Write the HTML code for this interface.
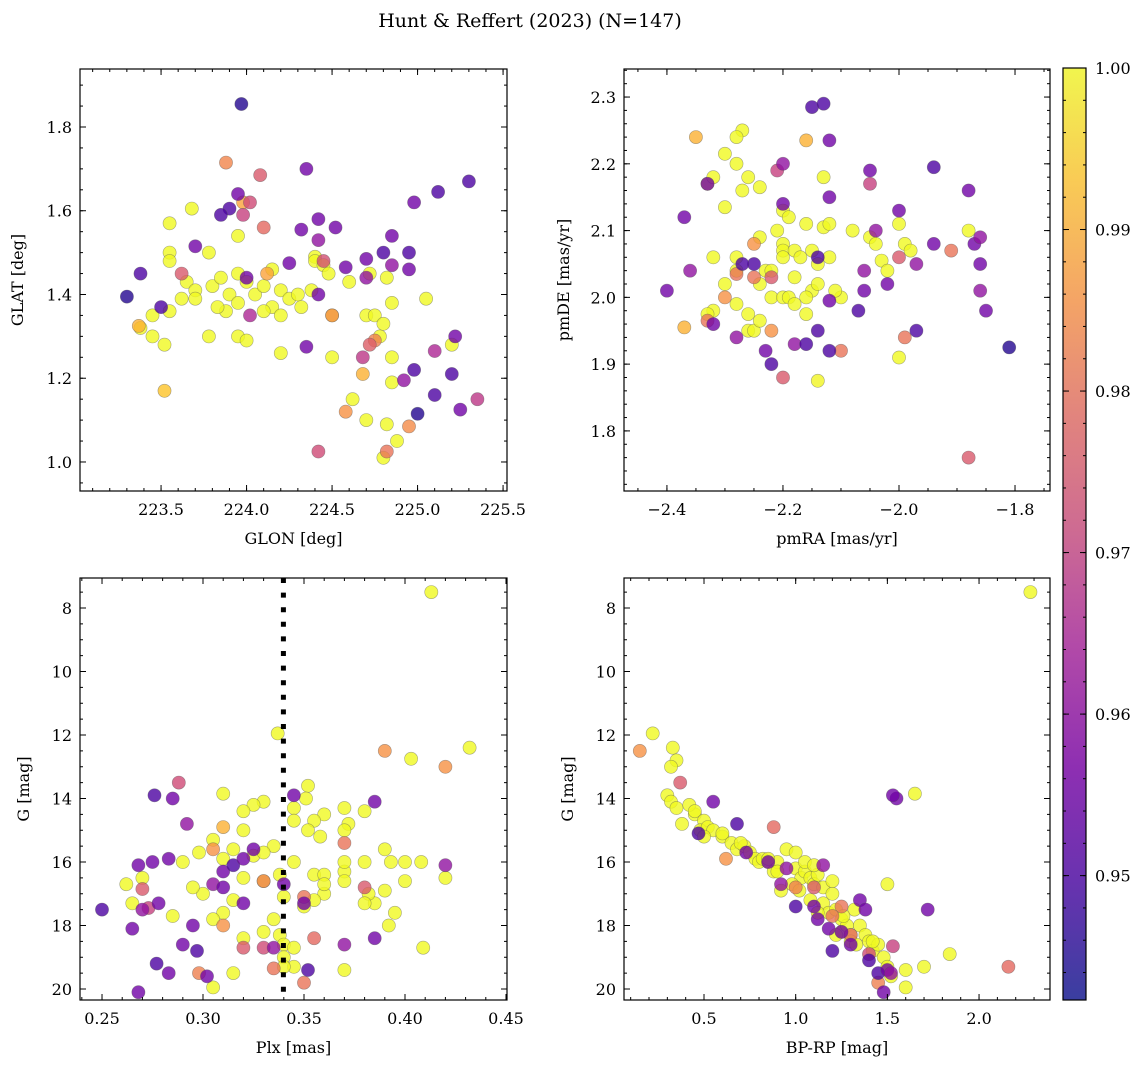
<!DOCTYPE html>
<html><head><meta charset="utf-8"><style>
body{margin:0;background:#fff;}
svg{display:block;font-family:"DejaVu Serif","Liberation Serif",serif;}
</style></head><body>
<svg id="fig" width="1148" height="1068" viewBox="0 0 1148 1068">
<text x="530" y="27" text-anchor="middle" font-size="19">Hunt &amp; Reffert (2023) (N=147)</text>
</svg>
<script>
// ---- Panel 1: GLON vs GLAT ----
const glon=[223.55,223.55,223.55,223.65,223.7,223.7,223.62,223.55,223.45,223.38,223.45,223.52,223.78,223.8,223.85,223.88,223.83,223.78,223.9,223.95,223.95,223.95,223.95,224.0,224.05,224.1,224.15,224.15,224.2,224.2,224.25,224.3,224.32,224.38,224.4,224.4,224.45,224.48,224.5,224.5,224.2,224.0,224.1,224.6,224.62,224.7,224.72,224.75,224.78,224.8,224.82,224.85,224.85,224.85,224.82,224.88,224.8,225.05,225.2,224.7,223.68,223.52,
223.88,224.08,223.98,224.02,224.1,223.98,224.12,224.45,224.5,224.68,224.68,224.58,224.75,224.95,224.82,224.42,225.35,225.1,224.72,223.62,223.37,
223.97,224.35,225.3,225.12,224.98,223.95,223.9,223.85,224.0,223.7,223.38,223.3,223.5,224.02,224.25,224.32,224.42,224.42,224.52,224.58,224.7,224.7,224.8,224.85,224.85,224.95,224.95,224.35,224.42,224.98,225.0,225.1,225.2,225.22,225.25,224.92];
const glat=[1.57,1.50,1.48,1.43,1.41,1.39,1.39,1.36,1.35,1.32,1.30,1.28,1.50,1.42,1.44,1.36,1.37,1.30,1.40,1.38,1.45,1.54,1.30,1.43,1.40,1.42,1.46,1.37,1.41,1.35,1.39,1.40,1.37,1.41,1.49,1.48,1.47,1.45,1.35,1.25,1.26,1.29,1.36,1.43,1.15,1.35,1.45,1.35,1.30,1.33,1.44,1.38,1.25,1.19,1.09,1.05,1.01,1.39,1.28,1.10,1.605,1.17,
1.715,1.685,1.62,1.62,1.56,1.59,1.45,1.48,1.35,1.25,1.21,1.12,1.29,1.085,1.025,1.025,1.15,1.265,1.28,1.45,1.325,
1.855,1.70,1.67,1.645,1.62,1.64,1.605,1.59,1.44,1.515,1.45,1.395,1.37,1.35,1.475,1.555,1.53,1.58,1.56,1.465,1.485,1.44,1.50,1.54,1.47,1.50,1.46,1.275,1.40,1.22,1.115,1.16,1.21,1.30,1.125,1.195];
const prob1=[.998,.999,.997,.999,.998,.999,.997,.999,.998,.996,.999,.998,.999,.997,.999,.998,.999,.998,.999,.997,.999,.998,.999,.998,.999,.997,.998,.999,.999,.997,.998,.999,.998,.999,.997,.999,.998,.999,.997,.998,.999,.998,.999,.998,.997,.999,.998,.999,.997,.999,.998,.999,.997,.998,.999,.998,.997,.999,.998,.999,.998,.993,
.983,.975,.988,.972,.978,.97,.988,.973,.984,.968,.99,.985,.982,.984,.98,.972,.968,.965,.976,.975,.99,
.945,.955,.95,.95,.955,.955,.95,.95,.955,.955,.95,.945,.95,.965,.955,.955,.96,.955,.955,.955,.955,.96,.95,.955,.96,.95,.955,.955,.955,.95,.945,.95,.95,.955,.955,.96];
// ---- Panel 2: pmRA vs pmDE ----
const pmra=[-2.27,-2.3,-2.28,-2.28,-2.33,-2.32,-2.26,-2.24,-2.27,-2.3,-2.32,-2.28,-2.28,-2.3,-2.32,-2.33,-2.28,-2.26,-2.26,-2.24,-2.23,-2.24,-2.22,-2.2,-2.21,-2.2,-2.19,-2.2,-2.18,-2.2,-2.18,-2.17,-2.16,-2.15,-2.14,-2.15,-2.16,-2.16,-2.14,-2.13,-2.12,-2.13,-2.12,-2.1,-2.08,-2.05,-2.03,-2.02,-2.04,-2.0,-1.99,-1.98,-2.0,-1.88,-2.14,-2.25,-2.22,-2.19,-2.18,-2.11,-2.2,-2.24,
-2.35,-2.37,-2.3,-2.28,-2.25,-2.21,-2.22,-2.2,-2.22,-2.16,-2.1,-2.05,-2.0,-1.99,-1.91,-1.88,-2.33,-2.25,
-2.4,-2.37,-2.36,-2.33,-2.32,-2.28,-2.25,-2.23,-2.22,-2.2,-2.18,-2.15,-2.13,-2.12,-2.12,-2.16,-2.14,-2.12,-2.12,-2.14,-2.05,-2.04,-2.0,-2.02,-2.06,-2.07,-2.06,-1.94,-1.94,-1.97,-1.97,-1.88,-1.87,-1.86,-1.86,-1.86,-1.85,-1.81,-2.27,-2.2];
const pmde=[2.25,2.215,2.24,2.2,2.17,2.18,2.18,2.165,2.16,2.135,2.06,2.06,2.04,2.02,1.98,1.975,1.99,1.975,1.95,2.09,2.04,2.02,2.0,2.13,2.1,2.08,2.12,2.07,2.07,2.0,2.03,2.06,2.11,2.07,2.05,2.01,2.0,1.975,2.02,2.105,2.11,2.18,2.06,2.0,2.1,2.09,2.055,2.04,2.08,2.11,2.08,2.07,1.91,2.1,1.875,1.95,2.04,2.0,1.99,2.01,2.06,1.965,
2.24,1.955,2.0,2.035,2.08,2.19,2.03,1.88,1.95,2.235,1.92,2.17,2.06,1.94,2.07,1.76,1.965,2.03,
2.01,2.12,2.04,2.17,1.96,1.94,2.05,1.92,1.90,2.14,1.93,2.285,2.29,2.235,2.15,1.93,1.95,1.995,1.92,2.06,2.19,2.1,2.13,2.02,2.04,1.98,2.01,2.195,2.08,2.05,1.95,2.16,2.08,2.09,2.05,2.01,1.98,1.925,2.05,2.2];
const prob2=[.999,.998,.999,.997,.999,.998,.999,.997,.998,.999,.998,.999,.997,.999,.998,.999,.997,.999,.998,.999,.998,.997,.999,.998,.999,.997,.998,.999,.998,.999,.997,.999,.998,.999,.997,.998,.999,.997,.999,.998,.999,.997,.998,.999,.998,.997,.999,.998,.999,.998,.997,.999,.998,.998,.996,.997,.998,.999,.997,.998,.999,.998,
.99,.99,.985,.98,.985,.97,.975,.975,.985,.99,.98,.97,.975,.98,.98,.975,.98,.98,
.955,.955,.96,.955,.955,.96,.95,.955,.95,.955,.96,.95,.95,.955,.955,.95,.95,.955,.95,.95,.955,.96,.955,.955,.96,.95,.955,.95,.955,.96,.95,.955,.955,.96,.955,.96,.955,.945,.95,.96];
// ---- Panel 3: Plx vs G ----
const plx=[0.413,0.337,0.403,0.432,0.352,0.351,0.345,0.36,0.37,0.38,0.372,0.37,0.355,0.345,0.352,0.358,0.335,0.33,0.325,0.32,0.31,0.32,0.315,0.305,0.298,0.31,0.325,0.33,0.345,0.338,0.355,0.36,0.37,0.37,0.38,0.39,0.393,0.4,0.408,0.42,0.4,0.39,0.385,0.382,0.37,0.36,0.355,0.35,0.34,0.335,0.33,0.32,0.315,0.31,0.305,0.3,0.295,0.29,0.285,0.27,0.262,0.265,0.32,0.33,0.338,0.34,0.345,0.34,0.345,0.34,0.315,0.305,0.37,0.392,0.409,0.395,0.36,0.38,
0.39,0.42,0.31,0.305,0.31,0.33,0.35,0.355,0.37,0.38,0.298,0.335,0.32,0.33,0.288,0.27,0.273,0.35,
0.276,0.285,0.25,0.268,0.275,0.283,0.265,0.27,0.278,0.268,0.277,0.283,0.29,0.297,0.295,0.292,0.302,0.31,0.305,0.31,0.315,0.32,0.32,0.325,0.335,0.345,0.35,0.352,0.37,0.385,0.385,0.42,0.34];
const gmag3=[7.5,11.95,12.75,12.4,13.6,14.0,14.3,14.5,14.3,14.4,14.8,15.0,14.7,14.7,15.0,15.2,15.5,14.1,14.2,14.4,13.85,15.0,15.6,15.3,15.7,15.9,15.8,15.7,16.0,16.4,16.4,16.4,16.3,16.0,16.0,15.6,16.0,16.0,16.0,16.5,16.6,16.9,17.3,17.0,16.6,17.0,17.2,17.4,17.1,17.8,16.6,16.5,17.2,17.6,17.8,17.0,16.8,16.0,17.7,16.5,16.7,17.3,18.4,18.2,18.3,18.6,18.7,19.0,19.3,19.3,19.5,19.95,19.4,18.0,18.7,17.6,16.7,17.3,
12.5,13.0,14.9,15.6,18.0,16.6,17.1,18.4,15.4,16.8,19.5,19.35,18.7,18.7,13.5,16.85,17.45,19.8,
13.9,14.0,17.5,16.1,16.0,15.9,18.1,17.5,17.3,20.1,19.2,19.5,18.6,18.8,18.0,14.8,19.6,16.3,16.7,16.8,16.1,17.3,15.9,15.6,18.7,13.9,17.3,19.4,18.6,18.4,14.1,16.1,16.7];
const prob3=[.999,.998,.999,.997,.999,.998,.999,.997,.998,.999,.998,.999,.997,.999,.998,.999,.997,.999,.998,.999,.998,.997,.999,.998,.999,.997,.998,.999,.998,.999,.997,.999,.998,.999,.997,.998,.999,.997,.999,.998,.999,.997,.998,.999,.998,.997,.999,.998,.999,.998,.997,.999,.998,.999,.997,.998,.999,.997,.999,.998,.999,.998,.999,.997,.998,.999,.998,.997,.999,.998,.999,.997,.999,.998,.999,.997,.998,.999,
.985,.985,.99,.985,.985,.982,.98,.978,.98,.975,.982,.98,.975,.972,.972,.975,.97,.98,
.95,.955,.95,.955,.955,.955,.955,.96,.955,.955,.95,.955,.955,.95,.955,.96,.955,.955,.96,.955,.95,.955,.955,.955,.96,.955,.955,.95,.96,.955,.955,.96,.955];
// ---- Panel 4: BP-RP vs G ----
const bprp=[2.28,0.22,0.33,0.35,0.32,0.3,0.32,0.35,0.38,0.45,0.42,0.45,0.5,0.48,0.52,0.55,0.5,0.6,0.65,0.68,0.72,0.75,0.78,0.8,0.82,0.85,0.88,0.9,0.95,1.0,1.0,1.03,1.05,1.08,1.1,1.12,1.15,1.15,1.18,1.2,1.22,1.25,1.25,1.28,1.3,1.32,1.35,1.38,1.4,1.42,1.45,1.48,1.5,1.52,1.6,1.6,1.7,1.84,1.5,1.65,1.05,1.1,1.2,0.98,0.92,1.08,1.12,1.22,1.3,1.42,0.9,0.85,0.7,0.6,1.02,1.26,1.33,
0.15,0.37,0.88,0.62,1.0,1.25,1.3,1.4,1.45,1.53,2.16,1.2,1.1,
0.55,0.47,0.68,0.73,0.85,0.92,1.0,1.1,1.15,1.18,1.2,1.25,1.35,1.38,1.4,1.45,1.5,1.52,1.48,1.55,1.53,1.72,1.12,0.95,1.3];
const gmag4=[7.5,11.95,12.4,12.8,13.0,13.9,14.1,14.3,14.8,14.5,14.2,14.4,14.7,15.0,14.9,15.0,15.2,15.2,15.4,15.6,15.5,15.7,15.9,16.0,15.9,16.0,16.3,16.0,15.6,15.7,16.2,16.5,16.3,16.5,16.7,16.4,16.8,17.3,17.6,17.0,17.5,17.8,18.2,18.0,18.3,17.5,18.0,18.3,18.5,18.8,18.6,19.0,19.3,19.6,19.4,19.95,19.3,18.9,16.7,13.85,16.0,16.1,16.6,16.7,16.9,17.2,17.6,18.3,18.5,18.5,16.3,15.9,15.4,15.1,16.9,17.7,18.6,
12.5,13.5,14.9,15.9,16.8,17.4,18.3,18.9,19.8,18.65,19.3,17.7,16.8,
14.1,15.1,14.8,15.7,16.0,16.7,17.4,17.4,16.1,18.1,18.8,18.2,17.2,17.5,19.1,19.5,19.4,19.5,20.1,14.0,13.9,17.5,17.8,16.2,18.6];
const prob4=[.999,.998,.999,.997,.999,.998,.999,.997,.998,.999,.998,.999,.997,.999,.998,.999,.997,.999,.998,.999,.998,.997,.999,.998,.999,.997,.998,.999,.998,.999,.997,.999,.998,.999,.997,.998,.999,.997,.999,.998,.999,.997,.998,.999,.998,.997,.999,.998,.999,.998,.997,.999,.998,.999,.997,.998,.999,.997,.999,.998,.999,.998,.999,.997,.998,.999,.998,.997,.999,.998,.999,.997,.999,.998,.999,.997,.998,
.985,.975,.978,.985,.982,.98,.978,.972,.982,.97,.978,.98,.975,
.955,.95,.95,.955,.955,.96,.95,.955,.96,.955,.95,.955,.955,.955,.95,.95,.955,.96,.955,.955,.955,.955,.955,.96,.955];
const xTicks1=[223.5,224.0,224.5,225.0,225.5], yTicks1=[1.0,1.2,1.4,1.6,1.8];
const xTicks2=[-2.4,-2.2,-2.0,-1.8], yTicks2=[1.8,1.9,2.0,2.1,2.2,2.3];
const xTicks3=[0.25,0.30,0.35,0.40,0.45], yTicksG=[8,10,12,14,16,18,20];
const xTicks4=[0.5,1.0,1.5,2.0];
const cbTicks=[0.95,0.96,0.97,0.98,0.99,1.00];
const plxCut=0.3398;
const CMIN=0.9423,CMAX=1.0;

const NS="http://www.w3.org/2000/svg";
const svg=document.getElementById('fig');
function mk(tag,attrs,parent){const e=document.createElementNS(NS,tag);for(const k in attrs)e.setAttribute(k,attrs[k]);(parent||svg).appendChild(e);return e;}
const stops=[[0,[13,8,135]],[0.13,[75,3,161]],[0.25,[125,3,168]],[0.38,[168,34,150]],[0.5,[203,70,121]],[0.63,[229,107,93]],[0.75,[248,148,65]],[0.88,[253,195,40]],[1,[240,249,33]]];
function plasma(t){t=Math.max(0,Math.min(1,t));for(let i=1;i<stops.length;i++){if(t<=stops[i][0]){const a=stops[i-1],b=stops[i];const f=(t-a[0])/(b[0]-a[0]);const c=a[1].map((v,j)=>Math.round(v+(b[1][j]-v)*f));return `rgb(${c[0]},${c[1]},${c[2]})`;}}return 'rgb(240,249,33)';}
function col(p){return plasma((p-CMIN)/(CMAX-CMIN)+(p>=0.995?0.06:0));}

function panel(o){
  const g=mk('g',{});
  
  
  const sx=v=>o.x0+(v-o.xd[0])/(o.xd[1]-o.xd[0])*(o.x1-o.x0);
  const sy=o.inv?(v=>o.y0+(v-o.yd[0])/(o.yd[1]-o.yd[0])*(o.y1-o.y0)):(v=>o.y1-(v-o.yd[0])/(o.yd[1]-o.yd[0])*(o.y1-o.y0));
  const clip='c'+o.name;
  const cp=mk('clipPath',{id:clip},g);mk('rect',{x:o.x0,y:o.y0,width:o.x1-o.x0,height:o.y1-o.y0},cp);
  const pts=mk('g',{'clip-path':`url(#${clip})`},g);
  
  
  for(let i=0;i<o.xs.length;i++){
    const c=mk('circle',{cx:sx(o.xs[i]).toFixed(1),cy:sy(o.ys[i]).toFixed(1),r:6.6,fill:col(o.cs[i]),'fill-opacity':0.8,stroke:'#555','stroke-opacity':0.5,'stroke-width':0.6},pts);
    
    
  }
  if(o.extra)o.extra(g,sx,sy);
  mk('rect',{x:o.x0,y:o.y0,width:o.x1-o.x0,height:o.y1-o.y0,fill:'none',stroke:'#000','stroke-width':1.2},g);
  const tg=mk('g',{stroke:'#000','stroke-width':1},g);
  for(let v=Math.ceil(o.xd[0]/o.xm-1e-6)*o.xm;v<=o.xd[1]+1e-9;v+=o.xm){const x=sx(v);mk('line',{x1:x,x2:x,y1:o.y1,y2:o.y1-3},tg);mk('line',{x1:x,x2:x,y1:o.y0,y2:o.y0+3},tg);}
  for(let v=Math.ceil(o.yd[0]/o.ym-1e-6)*o.ym;v<=o.yd[1]+1e-9;v+=o.ym){const y=sy(v);mk('line',{x1:o.x0,x2:o.x0+3,y1:y,y2:y},tg);mk('line',{x1:o.x1,x2:o.x1-3,y1:y,y2:y},tg);}
  o.xt.forEach(v=>{const x=sx(v);mk('line',{x1:x,x2:x,y1:o.y1,y2:o.y1-6},tg);mk('line',{x1:x,x2:x,y1:o.y0,y2:o.y0+6},tg);
    const t=mk('text',{x:x,y:o.y1+24,'text-anchor':'middle','font-size':16},g);t.textContent=(v<0?'\u2212':'')+Math.abs(v).toFixed(o.xdp);
    });
  o.yt.forEach(v=>{const y=sy(v);mk('line',{x1:o.x0,x2:o.x0+6,y1:y,y2:y},tg);mk('line',{x1:o.x1,x2:o.x1-6,y1:y,y2:y},tg);
    const t=mk('text',{x:o.x0-8,y:y+6,'text-anchor':'end','font-size':16},g);t.textContent=v.toFixed(o.ydp);
    });
  const xl=mk('text',{x:(o.x0+o.x1)/2,y:o.y1+53,'text-anchor':'middle','font-size':16},g);xl.textContent=o.xl;
  
  const cy=(o.y0+o.y1)/2;
  const yl=mk('text',{x:o.ylx,y:cy,'text-anchor':'middle','font-size':16,transform:`rotate(-90 ${o.ylx} ${cy})`},g);yl.textContent=o.yl;
  
}
panel({name:'glon-glat-panel',x0:80,x1:507,y0:69,y1:491,xd:[223.026,225.523],yd:[0.9307,1.9385],xs:glon,ys:glat,cs:prob1,xt:xTicks1,yt:yTicks1,xm:0.1,ym:0.05,xdp:1,ydp:1,xl:'GLON [deg]',yl:'GLAT [deg]',ylx:23});
panel({name:'pm-panel',x0:624,x1:1050,y0:69,y1:491,xd:[-2.474,-1.7397],yd:[1.710,2.342],xs:pmra,ys:pmde,cs:prob2,xt:xTicks2,yt:yTicks2,xm:0.05,ym:0.02,xdp:1,ydp:1,xl:'pmRA [mas/yr]',yl:'pmDE [mas/yr]',ylx:569});
panel({name:'plx-g-panel',x0:80,x1:507,y0:578,y1:1000,xd:[0.2391,0.4505],yd:[7.055,20.346],inv:true,xs:plx,ys:gmag3,cs:prob3,xt:xTicks3,yt:yTicksG,xm:0.01,ym:0.5,xdp:2,ydp:0,xl:'Plx [mas]',yl:'G [mag]',ylx:29,
  extra:(g,sx,sy)=>{const l=mk('line',{x1:sx(plxCut),x2:sx(plxCut),y1:578,y2:1000,stroke:'#000','stroke-width':5,'stroke-dasharray':'5 9.6'},g);}});
panel({name:'cmd-panel',x0:624,x1:1050,y0:578,y1:1000,xd:[0.0636,2.387],yd:[7.055,20.346],inv:true,xs:bprp,ys:gmag4,cs:prob4,xt:xTicks4,yt:yTicksG,xm:0.1,ym:0.5,xdp:1,ydp:0,xl:'BP-RP [mag]',yl:'G [mag]',ylx:573});

// colorbar
(function(){
  const cb=mk('g',{});
  
  
  const defs=mk('defs',{},cb);
  const lg=mk('linearGradient',{id:'plasmaGrad',x1:0,y1:1,x2:0,y2:0},defs);
  const st=[[0,'#3a3ea0'],[0.13,'#6a32b0'],[0.25,'#8e2fb2'],[0.38,'#b24aa8'],[0.5,'#cd6a93'],[0.63,'#e2857d'],[0.75,'#f4a466'],[0.88,'#f9cb55'],[1,'#f1f54e']];
  st.forEach(s=>mk('stop',{offset:s[0],'stop-color':s[1]},lg));
  const X0=1063,X1=1086,Y0=68,Y1=1000;
  mk('rect',{x:X0,y:Y0,width:X1-X0,height:Y1-Y0,fill:'url(#plasmaGrad)',stroke:'#000','stroke-width':1.2},cb);
  const sy=v=>Y1-(v-CMIN)/(CMAX-CMIN)*(Y1-Y0);
  for(let v=0.944;v<=1.0001;v+=0.002){const y=sy(v);mk('line',{x1:X1,x2:X1-3,y1:y,y2:y,stroke:'#000'},cb);mk('line',{x1:X0,x2:X0+3,y1:y,y2:y,stroke:'#000'},cb);}
  cbTicks.forEach(v=>{const y=sy(v);mk('line',{x1:X1,x2:X1-6,y1:y,y2:y,stroke:'#000'},cb);mk('line',{x1:X0,x2:X0+6,y1:y,y2:y,stroke:'#000'},cb);
    const t=mk('text',{x:X1+9,y:y+6,'font-size':16},cb);t.textContent=v.toFixed(2);
    });
})();
</script>
</body></html>
